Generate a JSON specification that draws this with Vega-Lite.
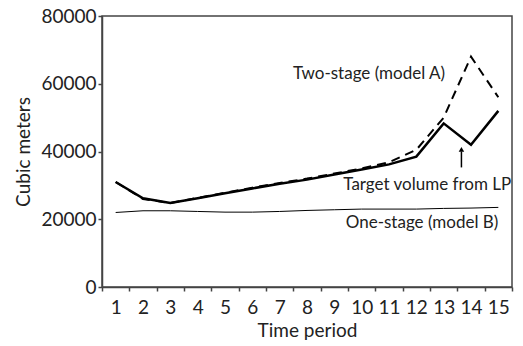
{
  "$schema": "https://vega.github.io/schema/vega-lite/v6.json",
  "width": 410,
  "height": 271,
  "autosize": {"type": "none"},
  "padding": {"left": 102, "top": 16, "right": 11, "bottom": 59},
  "background": "white",
  "config": {
    "font": "Lato",
    "view": {"stroke": "#444", "strokeWidth": 1.5},
    "axis": {
      "domainColor": "#444",
      "domainWidth": 1.5,
      "tickColor": "#444",
      "tickWidth": 1.5,
      "tickSize": 4,
      "labelColor": "#222",
      "titleColor": "#222",
      "labelFont": "Lato",
      "titleFont": "Lato",
      "labelFontSize": 19,
      "titleFontSize": 19,
      "titleFontWeight": "normal",
      "grid": false
    },
    "text": {"font": "Lato", "fontSize": 17, "color": "#222"}
  },
  "data": {
    "values": [
      {"period": 1, "series": "target", "value": 31000},
      {"period": 2, "series": "target", "value": 26200},
      {"period": 3, "series": "target", "value": 24800},
      {"period": 4, "series": "target", "value": 26200},
      {"period": 5, "series": "target", "value": 27700},
      {"period": 6, "series": "target", "value": 29100},
      {"period": 7, "series": "target", "value": 30500},
      {"period": 8, "series": "target", "value": 31700},
      {"period": 9, "series": "target", "value": 33200},
      {"period": 10, "series": "target", "value": 34700},
      {"period": 11, "series": "target", "value": 36200},
      {"period": 12, "series": "target", "value": 38500},
      {"period": 13, "series": "target", "value": 48300},
      {"period": 14, "series": "target", "value": 42000},
      {"period": 15, "series": "target", "value": 52000},
      {"period": 1, "series": "twostage", "value": 31000},
      {"period": 2, "series": "twostage", "value": 26000},
      {"period": 3, "series": "twostage", "value": 24800},
      {"period": 4, "series": "twostage", "value": 26300},
      {"period": 5, "series": "twostage", "value": 27800},
      {"period": 6, "series": "twostage", "value": 29300},
      {"period": 7, "series": "twostage", "value": 30700},
      {"period": 8, "series": "twostage", "value": 32000},
      {"period": 9, "series": "twostage", "value": 33500},
      {"period": 10, "series": "twostage", "value": 35000},
      {"period": 11, "series": "twostage", "value": 36800},
      {"period": 12, "series": "twostage", "value": 40500},
      {"period": 13, "series": "twostage", "value": 50000},
      {"period": 14, "series": "twostage", "value": 68000},
      {"period": 15, "series": "twostage", "value": 56000},
      {"period": 1, "series": "onestage", "value": 22000},
      {"period": 2, "series": "onestage", "value": 22500},
      {"period": 3, "series": "onestage", "value": 22500},
      {"period": 4, "series": "onestage", "value": 22300},
      {"period": 5, "series": "onestage", "value": 22100},
      {"period": 6, "series": "onestage", "value": 22100},
      {"period": 7, "series": "onestage", "value": 22300},
      {"period": 8, "series": "onestage", "value": 22600},
      {"period": 9, "series": "onestage", "value": 22800},
      {"period": 10, "series": "onestage", "value": 23000},
      {"period": 11, "series": "onestage", "value": 23000},
      {"period": 12, "series": "onestage", "value": 23000},
      {"period": 13, "series": "onestage", "value": 23200},
      {"period": 14, "series": "onestage", "value": 23300},
      {"period": 15, "series": "onestage", "value": 23500}
    ]
  },
  "encoding": {
    "x": {
      "field": "period",
      "type": "ordinal",
      "scale": {"domain": [1,2,3,4,5,6,7,8,9,10,11,12,13,14,15], "paddingInner": 0, "paddingOuter": 0},
      "axis": {"title": "Time period", "labelAngle": 0, "tickBand": "extent", "labelPadding": 7, "titlePadding": 4}
    }
  },
  "layer": [
    {
      "transform": [{"filter": "datum.series === 'onestage'"}],
      "mark": {"type": "line", "color": "black", "strokeWidth": 1},
      "encoding": {
        "y": {
          "field": "value",
          "type": "quantitative",
          "scale": {"domain": [0, 80000], "nice": false},
          "axis": {
            "title": "Cubic meters",
            "values": [0, 10000, 20000, 30000, 40000, 50000, 60000, 70000, 80000],
            "format": "d",
            "labelExpr": "datum.value % 20000 === 0 ? datum.label : ''",
            "labelPadding": 2,
            "titlePadding": 7
          }
        }
      }
    },
    {
      "transform": [{"filter": "datum.series === 'twostage'"}],
      "mark": {"type": "line", "color": "black", "strokeWidth": 2, "strokeDash": [9, 6]},
      "encoding": {"y": {"field": "value", "type": "quantitative"}}
    },
    {
      "transform": [{"filter": "datum.series === 'target'"}],
      "mark": {"type": "line", "color": "black", "strokeWidth": 2.5},
      "encoding": {"y": {"field": "value", "type": "quantitative"}}
    },
    {
      "data": {"values": [{"period": 13, "value": 63000, "label": "Two-stage (model A)"}]},
      "mark": {"type": "text", "align": "right", "baseline": "middle"},
      "encoding": {
        "x": {"field": "period", "type": "ordinal", "bandPosition": 0.55},
        "y": {"field": "value", "type": "quantitative"},
        "text": {"field": "label"}
      }
    },
    {
      "data": {"values": [{"period": 15, "value": 30000, "label": "Target volume from LP"}]},
      "mark": {"type": "text", "align": "right", "baseline": "middle"},
      "encoding": {
        "x": {"field": "period", "type": "ordinal", "bandPosition": 0.97},
        "y": {"field": "value", "type": "quantitative"},
        "text": {"field": "label"}
      }
    },
    {
      "data": {"values": [{"period": 15, "value": 18900, "label": "One-stage (model B)"}]},
      "mark": {"type": "text", "align": "right", "baseline": "middle"},
      "encoding": {
        "x": {"field": "period", "type": "ordinal", "bandPosition": 0.5},
        "y": {"field": "value", "type": "quantitative"},
        "text": {"field": "label"}
      }
    },
    {
      "data": {"values": [{"period": 14, "y1": 35300, "y2": 40000}]},
      "mark": {"type": "rule", "color": "black", "strokeWidth": 1.5},
      "encoding": {
        "x": {"field": "period", "type": "ordinal", "bandPosition": 0.15},
        "y": {"field": "y1", "type": "quantitative"},
        "y2": {"field": "y2"}
      }
    },
    {
      "data": {"values": [{"period": 14, "value": 40600}]},
      "mark": {"type": "point", "shape": "triangle-up", "filled": true, "color": "black", "size": 30, "opacity": 1},
      "encoding": {
        "x": {"field": "period", "type": "ordinal", "bandPosition": 0.15},
        "y": {"field": "value", "type": "quantitative"}
      }
    }
  ]
}
